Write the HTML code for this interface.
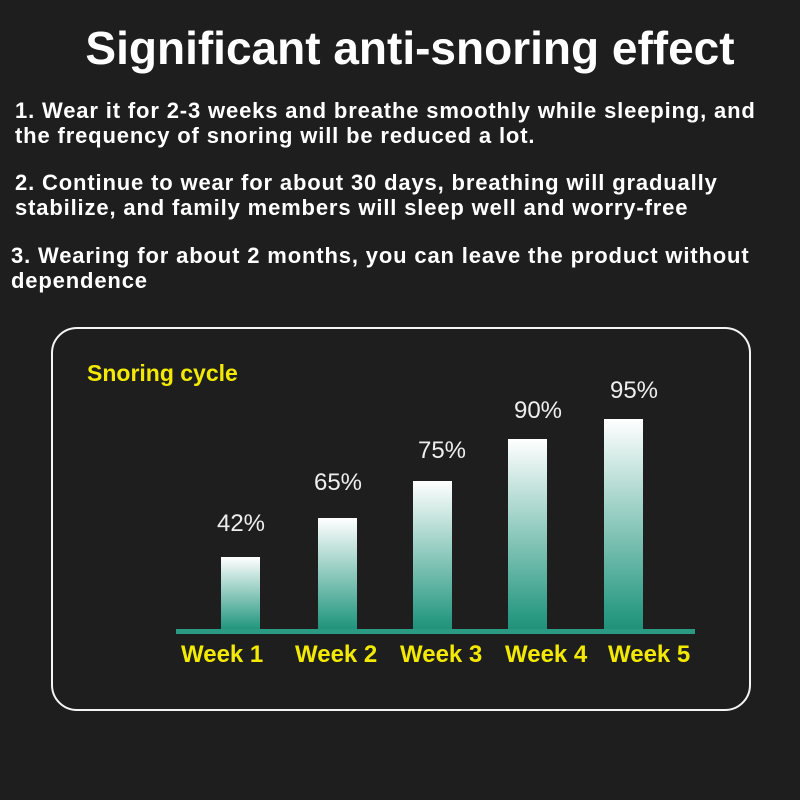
<!DOCTYPE html>
<html><head><style>
body{margin:0;width:800px;height:800px;background:#1e1e1f;overflow:hidden;position:relative;font-family:"Liberation Sans",sans-serif}
.t{position:absolute;color:#fff;white-space:nowrap}
.box{position:absolute;left:51px;top:327px;width:696px;height:380px;border:2px solid #f4f4f4;border-radius:26px}
.bar{position:absolute;width:39px;background:linear-gradient(#ffffff,#2a9a83 92%,#1f8f78);bottom:168px}
.p{position:absolute;color:#eee;font-size:24px;width:80px;text-align:center}
.w{position:absolute;color:#f3ea00;font-weight:bold;font-size:24px;top:641px}
.q{font-size:22px;line-height:25px;font-weight:bold;letter-spacing:0.85px}
</style></head><body>
<div class="t" style="left:0;width:820px;text-align:center;top:21px;font-size:46px;font-weight:bold">Significant anti-snoring effect</div>
<div class="t q" style="left:15px;top:98px">1. Wear it for 2-3 weeks and breathe smoothly while sleeping, and<br>the frequency of snoring will be reduced a lot.</div>
<div class="t q" style="left:15px;top:170px">2. Continue to wear for about 30 days, breathing will gradually<br>stabilize, and family members will sleep well and worry-free</div>
<div class="t q" style="left:11px;top:243px">3. Wearing for about 2 months, you can leave the product without<br>dependence</div>
<div class="box"></div>
<div class="t" style="left:87px;top:360px;font-size:23px;font-weight:bold;color:#f3ea00">Snoring cycle</div>
<div class="bar" style="left:221px;top:557px"></div>
<div class="bar" style="left:318px;top:518px"></div>
<div class="bar" style="left:413px;top:481px"></div>
<div class="bar" style="left:508px;top:439px"></div>
<div class="bar" style="left:604px;top:419px"></div>
<div style="position:absolute;left:176px;top:629px;width:519px;height:5px;background:#2a9a83"></div>
<div class="p" style="left:201px;top:510px">42%</div>
<div class="p" style="left:298px;top:469px">65%</div>
<div class="p" style="left:402px;top:437px">75%</div>
<div class="p" style="left:498px;top:397px">90%</div>
<div class="p" style="left:594px;top:377px">95%</div>
<div class="w" style="left:181px">Week 1</div>
<div class="w" style="left:295px">Week 2</div>
<div class="w" style="left:400px">Week 3</div>
<div class="w" style="left:505px">Week 4</div>
<div class="w" style="left:608px">Week 5</div>
</body></html>
